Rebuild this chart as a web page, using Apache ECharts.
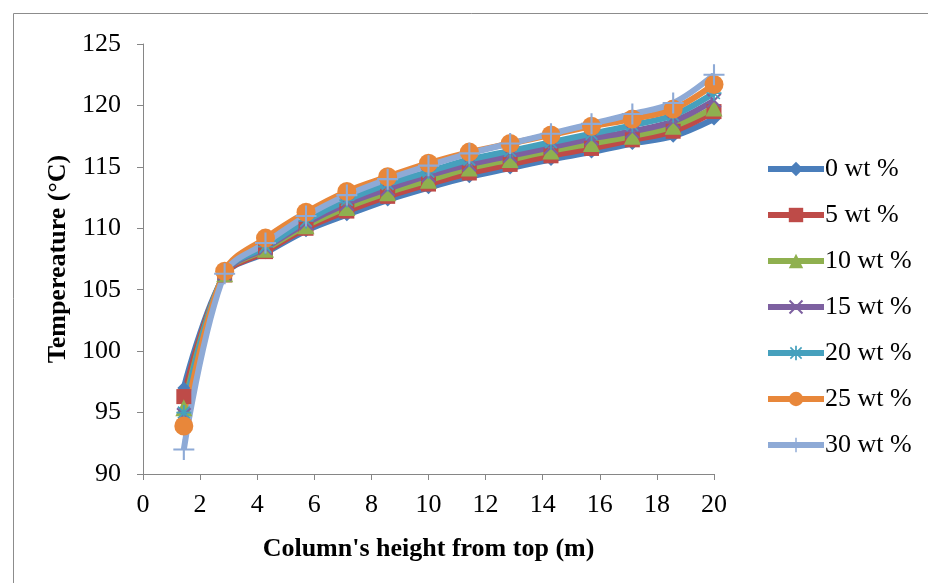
<!DOCTYPE html>
<html>
<head>
<meta charset="utf-8">
<script src="https://cdn.jsdelivr.net/npm/echarts@6/dist/echarts.min.js"></script>
<style>
  html, body { margin: 0; padding: 0; background: #fff; }
  #main { width: 928px; height: 583px; }
</style>
</head>
<body>
<div id="main"></div>
<script>
// column height from top (m)
var heights = [1.43, 2.86, 4.29, 5.71, 7.14, 8.57, 10, 11.43, 12.86, 14.29, 15.71, 17.14, 18.57, 20]

// temperature (°C) for each loading
var wt0 = [97.0, 106.2, 108.0, 109.8, 111.1, 112.3, 113.3, 114.2, 114.9, 115.6, 116.2, 116.9, 117.5, 118.9]
var wt5 = [96.3, 106.2, 108.1, 110.0, 111.4, 112.6, 113.6, 114.5, 115.2, 115.9, 116.5, 117.2, 117.9, 119.5]
var wt10 = [95.4, 106.3, 108.3, 110.2, 111.7, 112.9, 113.9, 114.9, 115.6, 116.3, 116.9, 117.5, 118.3, 119.8]
var wt15 = [94.8, 106.3, 108.4, 110.4, 112.0, 113.2, 114.3, 115.2, 115.9, 116.6, 117.3, 117.9, 118.7, 120.4]
var wt20 = [95.0, 106.4, 108.5, 110.6, 112.3, 113.6, 114.6, 115.6, 116.3, 117.0, 117.7, 118.4, 119.2, 121.0]
var wt25 = [93.9, 106.5, 109.2, 111.3, 113.0, 114.2, 115.3, 116.2, 116.9, 117.6, 118.3, 118.9, 119.7, 121.7]
var wt30 = [92.0, 106.3, 108.8, 111.0, 112.7, 114.0, 115.1, 116.1, 116.9, 117.7, 118.5, 119.3, 120.2, 122.5]

var names = ['0 wt %', '5 wt %', '10 wt %', '15 wt %', '20 wt %', '25 wt %', '30 wt %']
var values = [wt0, wt5, wt10, wt15, wt20, wt25, wt30]
var colors = ['#4a7ebb', '#be4b48', '#8fb04f', '#7d60a0', '#46a0bd', '#e8873a', '#8eaad6']

// marker shapes like the excel ones
var xMark = 'path://M0,1L1,0L10,9L9,10Z M9,0L10,1L1,10L0,9Z'
var plusMark = 'path://M4.5,0H5.5V10H4.5Z M0,4.5H10V5.5H0Z'
var starMark = 'path://M4.4,0H5.6V10H4.4Z M0,4.4H10V5.6H0Z M0.7,1.5L1.5,0.7L9.3,8.5L8.5,9.3Z M8.5,0.7L9.3,1.5L1.5,9.3L0.7,8.5Z'
var symbols = ['diamond', 'rect', 'triangle', xMark, starMark, 'circle', plusMark]
var sizes = [13, 15, 17, 15, 15, 19, 21]

var font = '"Liberation Serif", "Times New Roman", serif'

var chart = echarts.init(document.getElementById('main'))

var series = names.map(function (n, i) {
  return {
    name: n,
    type: 'line',
    smooth: 0.35,
    data: heights.map(function (h, j) { return [h, values[i][j]] }),
    symbol: symbols[i],
    symbolSize: sizes[i],
    showAllSymbol: true,
    lineStyle: { color: colors[i], width: 6 },
    itemStyle: { color: colors[i] },
    emphasis: { disabled: true }
  }
})

var option = {
  animation: false,
  color: colors,
  graphic: [{
    type: 'rect',
    shape: { x: 13.5, y: 13.5, width: 1000, height: 1000 },
    style: { fill: 'none', stroke: '#8c8c8c', lineWidth: 1 },
    silent: true
  }],
  legend: {
    orient: 'vertical',
    left: 760,
    top: 151,
    itemWidth: 56,
    itemHeight: 18,
    itemGap: 20,
    data: names,
    lineStyle: { width: 6 },
    textStyle: { fontFamily: font, fontSize: 26, color: '#000', padding: [0, 0, 0, -4] }
  },
  grid: {
    left: 143,
    right: 214,
    top: 44,
    bottom: 109
  },
  xAxis: {
    type: 'value',
    min: 0,
    max: 20,
    interval: 2,
    name: "Column's height from top (m)",
    nameLocation: 'middle',
    nameGap: 62,
    nameTextStyle: { fontFamily: font, fontSize: 26, fontWeight: 'bold', color: '#000' },
    axisLine: { lineStyle: { color: '#868686', width: 1 } },
    axisTick: { show: true, length: 6, lineStyle: { color: '#868686' } },
    axisLabel: { fontFamily: font, fontSize: 26, color: '#000', margin: 18 },
    splitLine: { show: false }
  },
  yAxis: {
    type: 'value',
    min: 90,
    max: 125,
    interval: 5,
    name: 'Tempereature (°C)',
    nameLocation: 'middle',
    nameGap: 70,
    nameTextStyle: { fontFamily: font, fontSize: 26, fontWeight: 'bold', color: '#000' },
    axisLine: { show: true, lineStyle: { color: '#868686', width: 1 } },
    axisTick: { show: true, length: 6, lineStyle: { color: '#868686' } },
    axisLabel: { fontFamily: font, fontSize: 26, color: '#000', margin: 22 },
    splitLine: { show: false }
  },
  series: series
}

chart.setOption(option)
</script>
</body>
</html>
